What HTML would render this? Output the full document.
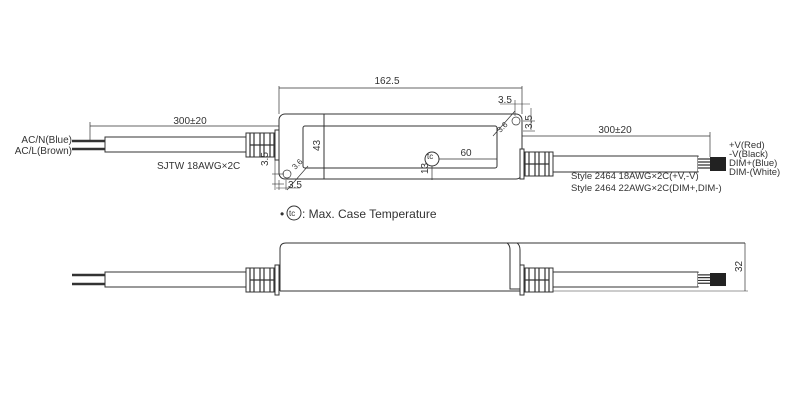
<!DOCTYPE html>
<html><head><meta charset="utf-8"><style>body{margin:0;background:#fff}svg{display:block}text{font-family:"Liberation Sans",sans-serif;fill:#333}</style></head><body>
<svg width="800" height="400" viewBox="0 0 800 400" xmlns="http://www.w3.org/2000/svg">
<defs>
<g id="conn">
<rect x="0" y="-12" width="32" height="24" fill="#fff" stroke="#333" stroke-width="1"/>
<path d="M4 -12V12M8 -12V12M14 -12V12M18 -12V12M24 -12V12M28 -12V12M4 0H28" stroke="#333" stroke-width="1.2" fill="none"/>
<rect x="29" y="-15" width="4" height="30" fill="#fff" stroke="#333"/>
</g>
<g id="wend">
<rect x="0" y="0" width="28" height="14" fill="#fff"/>
<path d="M0 2H14M0 5H14M0 8H14M0 11H14" stroke="#333" stroke-width="1.3"/>
<rect x="12" y="0" width="16" height="14" fill="#222"/>
</g>
</defs>
<g stroke="#333" fill="none" stroke-width="1">
<rect x="279" y="114" width="243" height="65" rx="6"/>
<rect x="303" y="126" width="194" height="42" rx="2"/>
<line x1="324" y1="114" x2="324" y2="179"/>
<line x1="279" y1="86" x2="279" y2="114" stroke-width="0.7"/>
<line x1="522" y1="86" x2="522" y2="114" stroke-width="0.7"/>
<line x1="279" y1="88" x2="522" y2="88" stroke-width="0.7"/>
<rect x="105" y="137" width="141" height="15" fill="#fff"/>
<line x1="72" y1="141" x2="105" y2="141" stroke-width="2.5"/>
<line x1="72" y1="149" x2="105" y2="149" stroke-width="2.5"/>
<line x1="90" y1="126" x2="279" y2="126" stroke-width="0.7"/>
<line x1="90" y1="122" x2="90" y2="142" stroke-width="0.7"/>
<rect x="553" y="156" width="145" height="16" fill="#fff"/>
<line x1="522" y1="136" x2="710" y2="136" stroke-width="0.7"/>
<line x1="710" y1="132" x2="710" y2="158" stroke-width="0.7"/>
<circle cx="432" cy="159" r="7"/>
<line x1="439" y1="159" x2="497" y2="159" stroke-width="0.7"/>
<line x1="432" y1="166" x2="432" y2="180" stroke-width="0.7"/>
<line x1="287" y1="190" x2="308" y2="166" stroke-width="0.7"/>
<circle cx="287" cy="174" r="4" stroke-width="0.7"/>
<line x1="272" y1="174" x2="284" y2="174" stroke-width="0.6"/>
<line x1="272" y1="184" x2="284" y2="184" stroke-width="0.6"/>
<line x1="275" y1="160" x2="275" y2="190" stroke-width="0.6"/>
<line x1="279" y1="180" x2="279" y2="190" stroke-width="0.6"/>
<line x1="286" y1="180" x2="286" y2="190" stroke-width="0.6"/>
<line x1="276" y1="188" x2="300" y2="188" stroke-width="0.6"/>
<line x1="493" y1="136" x2="515" y2="111" stroke-width="0.7"/>
<circle cx="516" cy="121" r="4" stroke-width="0.7"/>
<line x1="500" y1="104" x2="530" y2="104" stroke-width="0.6"/>
<line x1="515" y1="100" x2="515" y2="116" stroke-width="0.6"/>
<line x1="531" y1="108" x2="531" y2="130" stroke-width="0.6"/>
<line x1="523" y1="121" x2="535" y2="121" stroke-width="0.6"/>
<line x1="523" y1="131" x2="535" y2="131" stroke-width="0.6"/>
<path d="M280 291V249Q280 243 286 243H745" />
<line x1="280" y1="291" x2="520" y2="291"/>
<path d="M507 243Q510 245 510 250V289H520M517 243Q520 245 520 250V291"/>
<line x1="745" y1="243" x2="745" y2="291" stroke-width="0.7"/>
<line x1="520" y1="291" x2="748" y2="291" stroke-width="0.5"/>
<rect x="105" y="272" width="141" height="15" fill="#fff"/>
<line x1="72" y1="275" x2="105" y2="275" stroke-width="2.5"/>
<line x1="72" y1="284" x2="105" y2="284" stroke-width="2.5"/>
<rect x="553" y="272" width="145" height="15" fill="#fff"/>
</g>
<use href="#wend" transform="translate(698,157)"/>
<use href="#wend" transform="translate(698,273) scale(1,0.93)"/>
<use href="#conn" transform="translate(246,145)"/>
<use href="#conn" transform="translate(553,164) scale(-1,1)"/>
<use href="#conn" transform="translate(246,280)"/>
<use href="#conn" transform="translate(553,280) scale(-1,1)"/>
<g font-size="10">
<text x="387" y="84" text-anchor="middle">162.5</text>
<text x="190" y="124" text-anchor="middle">300±20</text>
<text x="615" y="133" text-anchor="middle">300±20</text>
<text x="72" y="143" text-anchor="end">AC/N(Blue)</text>
<text x="72" y="154" text-anchor="end">AC/L(Brown)</text>
<text x="157" y="169">SJTW 18AWG×2C</text>
<text x="729" y="148" font-size="9.5">+V(Red)</text>
<text x="729" y="157" font-size="9.5">-V(Black)</text>
<text x="729" y="166" font-size="9.5">DIM+(Blue)</text>
<text x="729" y="175" font-size="9.5">DIM-(White)</text>
<text x="571" y="179" font-size="9.5">Style 2464 18AWG×2C(+V,-V)</text>
<text x="571" y="191" font-size="9.5">Style 2464 22AWG×2C(DIM+,DIM-)</text>
<text x="466" y="156" text-anchor="middle">60</text>
<text x="427" y="159" font-size="8">tc</text>
<text x="498" y="103">3.5</text>
<text x="288" y="188">3.5</text>
<text x="316" y="147" transform="rotate(-90 320 147)">43</text>
<text x="270" y="168" transform="rotate(-90 268 168)">3.5</text>
<text x="533" y="130" transform="rotate(-90 532 130)">3.5</text>
<text x="430" y="176" transform="rotate(-90 428 176)">13</text>
<text x="738" y="272" transform="rotate(-90 740 270)">32</text>
<text x="292" y="168" font-size="8" transform="rotate(-45 296 165)">3.6</text>
<text x="497" y="131" font-size="8" transform="rotate(-45 501 128)">3.6</text>
<text x="280" y="218" font-size="12">•</text>
<circle cx="294" cy="213" r="7" fill="none" stroke="#333"/>
<text x="289" y="216" font-size="8">tc</text>
<text x="302" y="218" font-size="12">: Max. Case Temperature</text>
</g>
</svg>
</body></html>
